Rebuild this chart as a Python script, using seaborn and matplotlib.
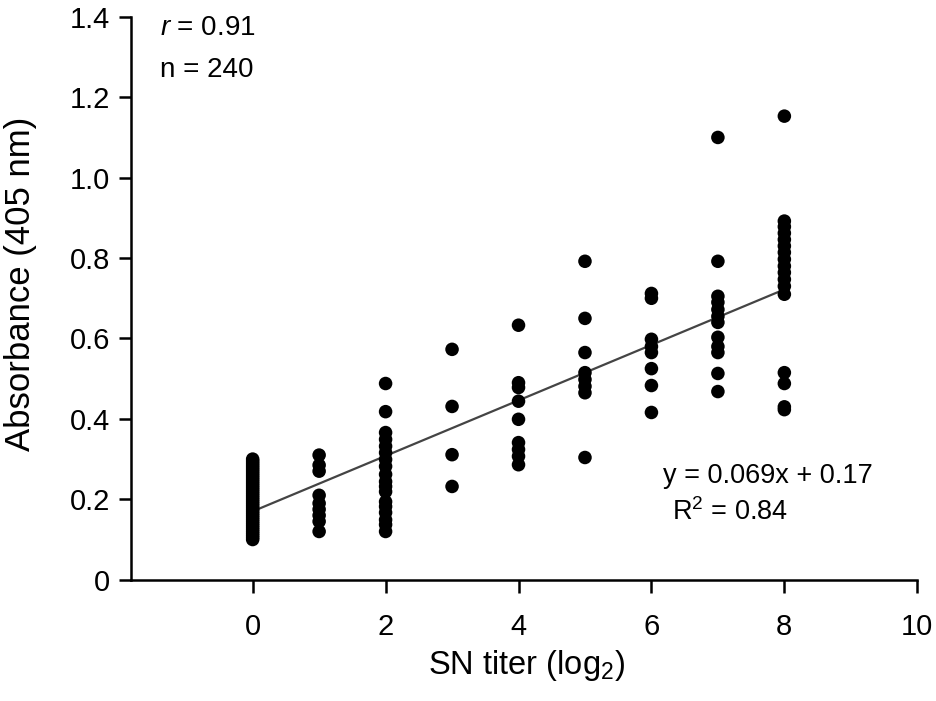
import pandas as pd
import matplotlib
matplotlib.use('Agg')
import matplotlib.pyplot as plt
import seaborn as sns

# Absorbance readings per SN titer (log2)
abs_t0 = [0.10, 0.105, 0.11, 0.115, 0.12, 0.125, 0.13, 0.135, 0.14, 0.145,
          0.15, 0.155, 0.16, 0.165, 0.17, 0.175, 0.18, 0.185, 0.19, 0.195,
          0.20, 0.205, 0.21, 0.215, 0.22, 0.225, 0.23, 0.235, 0.24, 0.245,
          0.25, 0.255, 0.26, 0.265, 0.27, 0.275, 0.28, 0.285, 0.29, 0.295, 0.30]
abs_t1 = [0.31, 0.285, 0.27, 0.21, 0.19, 0.175, 0.16, 0.145, 0.12]
abs_t2 = [0.488, 0.418, 0.366, 0.349, 0.332, 0.316, 0.299, 0.282, 0.262,
          0.244, 0.232, 0.219, 0.194, 0.182, 0.167, 0.149, 0.137, 0.12]
abs_t3 = [0.573, 0.431, 0.311, 0.232]
abs_t4 = [0.633, 0.49, 0.478, 0.444, 0.399, 0.341, 0.324, 0.307, 0.286]
abs_t5 = [0.792, 0.65, 0.565, 0.515, 0.498, 0.481, 0.465, 0.304]
abs_t6 = [0.712, 0.700, 0.598, 0.58, 0.565, 0.525, 0.483, 0.416]
abs_t7 = [1.10, 0.792, 0.705, 0.69, 0.672, 0.655, 0.64, 0.603, 0.58, 0.565,
          0.513, 0.468]
abs_t8 = [1.153, 0.892, 0.878, 0.862, 0.846, 0.83, 0.814, 0.797, 0.78, 0.764,
          0.747, 0.73, 0.71, 0.515, 0.488, 0.43, 0.423]

titers = [0, 1, 2, 3, 4, 5, 6, 7, 8]
groups = [abs_t0, abs_t1, abs_t2, abs_t3, abs_t4, abs_t5, abs_t6, abs_t7, abs_t8]

# Regression reported on the figure
slope = 0.069
intercept = 0.17
fit_x = [0, 8]

rows = [(t, v) for t, vals in zip(titers, groups) for v in vals]
df = pd.DataFrame(rows, columns=['titer', 'absorbance'])
fit = pd.DataFrame({'titer': fit_x})
fit['absorbance'] = slope * fit['titer'] + intercept

sns.set_style('ticks', {'axes.edgecolor': 'black', 'text.color': 'black',
                        'axes.labelcolor': 'black', 'xtick.color': 'black',
                        'ytick.color': 'black'})
plt.rcParams['font.family'] = ['Liberation Sans', 'DejaVu Sans']
plt.rcParams['mathtext.fontset'] = 'custom'
plt.rcParams['mathtext.it'] = 'Liberation Sans:italic'
plt.rcParams['mathtext.rm'] = 'Liberation Sans'

fig = plt.figure(figsize=(9.36, 7.01), dpi=100)
ax = fig.add_axes([0.140, 0.173, 0.840, 0.803])

sns.lineplot(data=fit, x='titer', y='absorbance', ax=ax, color='#444444',
             linewidth=1.6, zorder=1)
sns.scatterplot(data=df, x='titer', y='absorbance', ax=ax, color='black',
                s=95, edgecolor='none', zorder=2)

ax.set_xlim(-1.83, 10)
ax.set_ylim(0, 1.4)
ax.set_xticks([0, 2, 4, 6, 8, 10])
ax.set_yticks([0, 0.2, 0.4, 0.6, 0.8, 1.0, 1.2, 1.4])
ax.set_yticklabels(['0', '0.2', '0.4', '0.6', '0.8', '1.0', '1.2', '1.4'])
ax.tick_params(axis='both', labelsize=21, length=9, width=1.8, direction='out',
               colors='black')
ax.tick_params(axis='y', pad=6)
ax.tick_params(axis='x', pad=15)

sns.despine(ax=ax)
for sp in ['left', 'bottom']:
    ax.spines[sp].set_linewidth(1.8)
    ax.spines[sp].set_color('black')

ax.set_xlabel('SN titer (log$_2$)', fontsize=23.5, color='black')
ax.set_ylabel('Absorbance (405 nm)', fontsize=25, color='black')
ax.xaxis.set_label_coords(0.503, -0.122)
ax.yaxis.set_label_coords(-0.12, 0.525)

ax.text(0.037, 0.968, '$r$ = 0.91', transform=ax.transAxes, fontsize=20,
        va='baseline', ha='left', color='black')
ax.text(0.037, 0.893, 'n = 240', transform=ax.transAxes, fontsize=20,
        va='baseline', ha='left', color='black')
ax.text(0.677, 0.172, 'y = 0.069x + 0.17', transform=ax.transAxes, fontsize=19.5,
        va='baseline', ha='left', color='black')
ax.text(0.688, 0.1066, 'R$^2$ = 0.84', transform=ax.transAxes, fontsize=19.5,
        va='baseline', ha='left', color='black')

fig.savefig('out.png', dpi=100)
